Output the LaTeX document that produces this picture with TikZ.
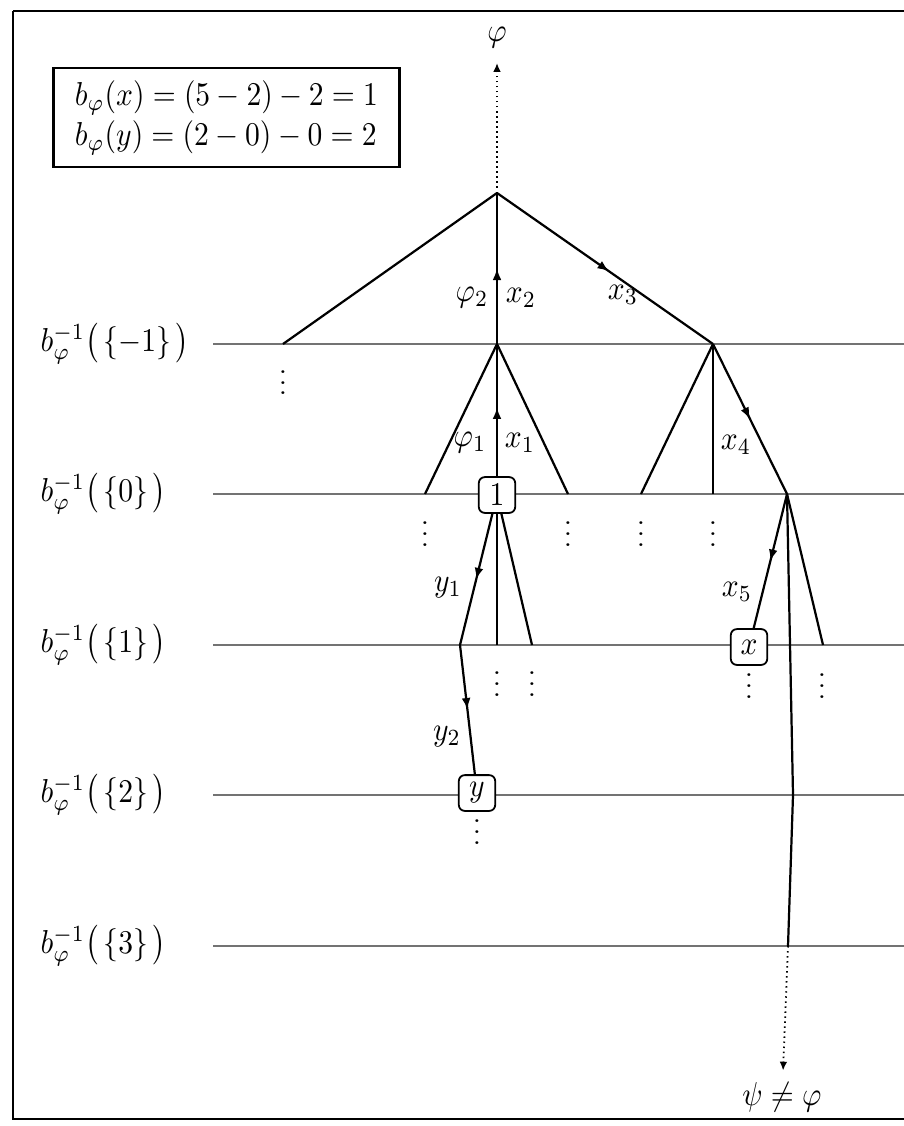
\documentclass[tikz,border=0pt]{standalone}
\usetikzlibrary{arrows.meta,decorations.markings}
\newcommand{\myvdots}{\vbox{\baselineskip=4pt\lineskiplimit=0pt\hbox{.}\hbox{.}\hbox{.}}}
\begin{document}
\begin{tikzpicture}[x=0.338pt,y=-0.338pt,
  st/.style={yscale=1.12, transform shape},
  lvl/.style={st, anchor=west, inner sep=0pt},
  lab/.style={st, inner sep=1pt},
  vbox/.style={st, draw, fill=white, rounded corners=2pt, minimum width=12.3pt, minimum height=10.8pt, inner sep=2pt, line width=0.6pt},
  vd/.style={yscale=0.9, transform shape, anchor=base, inner sep=0pt},
  levelline/.style={draw=black!55, line width=0.5pt},
  edge/.style={line width=0.75pt},
  frame/.style={line width=1pt},
  dotarrow/.style={line width=0.6pt, dash pattern=on 0.5pt off 1.2pt, -{Latex[length=3pt,width=2.6pt]}},
  midarrow/.style={postaction={decorate, decoration={markings, mark=at position #1 with {\arrow{Latex[length=3.9pt,width=3pt]}}}}},
  midarrow/.default=0.55
]
\useasboundingbox (0,0) rectangle (903,1126);
% frame
\draw[frame] (13,11) -- (930,11);
\draw[frame] (13,11) -- (13,1119) -- (930,1119);

% equation box
\node[st, draw, line width=0.8pt, minimum width=117pt, minimum height=29.8pt, inner sep=0pt] (eq) at (226.5,117.5)
  {$\begin{array}{@{}l@{}} b_\varphi(x) = (5-2)-2 = 1\\ b_\varphi(y) = (2-0)-0 = 2\end{array}$};

% level lines and labels
\foreach \n/\yy/\t in {m1/344/{-1}, z0/494/{0}, p1/645/{1}, p2/795/{2}, p3/946/{3}} {
  \coordinate (lw\n) at (213,\yy);
  \coordinate (le\n) at (905,\yy);
  \draw[levelline] (lw\n) -- (le\n);
  \node[lvl] (lab\n) at (40,\yy) {$b_\varphi^{-1}\bigl(\,\{\t\}\,\bigr)$};
}

% coordinates of the tree
\coordinate (R) at (497,193);
\coordinate (L1) at (283,344);
\coordinate (A) at (497,344);
\coordinate (B) at (713,344);
\coordinate (AL) at (425,494);
\coordinate (AR) at (568,494);
\coordinate (P1) at (460,645);
\coordinate (P2) at (497,645);
\coordinate (P3) at (532,645);
\coordinate (BL) at (641,494);
\coordinate (BM) at (713,494);
\coordinate (C) at (787,494);
\coordinate (CR) at (823,645);
\coordinate (K2) at (793,795);
\coordinate (K3) at (788,946);

\node[vbox] (N1) at (497,495) {$1$};
\node[vbox] (Y) at (477,793) {$y$};
\node[vbox] (X) at (749,647) {$x$};

\node[st] (phi) at (497,38) {$\varphi$};
\node[st] (psi) at (782,1097) {$\psi\neq\varphi$};

% edges
\draw[dotarrow, shorten >=1pt] (R) -- (phi);
\draw[edge] (R) -- (L1);
\draw[edge, midarrow=0.5] (A) -- (R);
\draw[edge, midarrow=0.52] (R) -- (B);
\draw[edge] (A) -- (AL);
\draw[edge, midarrow=0.52] (N1) -- (A);
\draw[edge] (A) -- (AR);
\draw[edge, midarrow=0.5] (N1) -- (P1);
\draw[edge] (N1) -- (P2);
\draw[edge] (N1) -- (P3);
\draw[edge, midarrow=0.5] (P1) -- (Y);
\draw[edge] (B) -- (BL);
\draw[edge] (B) -- (BM);
\draw[edge, midarrow=0.5] (B) -- (C);
\draw[edge, midarrow=0.5] (C) -- (X);
\draw[edge] (C) -- (CR);
\draw[edge] (C) -- (K2) -- (K3);
\draw[dotarrow] (K3) -- (psi);

% edge labels
\node[lab] (lphi2) at (472,298) {$\varphi_2$};
\node[lab] (lx2) at (521,298) {$x_2$};
\node[lab] (lx3) at (623,295) {$x_3$};
\node[lab] (lphi1) at (470,443) {$\varphi_1$};
\node[lab] (lx1) at (520,443) {$x_1$};
\node[lab] (lx4) at (736,445) {$x_4$};
\node[lab] (ly1) at (448,588) {$y_1$};
\node[lab] (lx5) at (737,592) {$x_5$};
\node[lab] (ly2) at (447,737) {$y_2$};

% vertical dots
\node[vd] (d0) at (283,395) {\myvdots};
\node[vd] (d1) at (425,546) {\myvdots};
\node[vd] (d2) at (568,546) {\myvdots};
\node[vd] (d3) at (641,546) {\myvdots};
\node[vd] (d4) at (713,546) {\myvdots};
\node[vd] (d5) at (497,696) {\myvdots};
\node[vd] (d6) at (532,696) {\myvdots};
\node[vd] (d7) at (749,698) {\myvdots};
\node[vd] (d8) at (822,698) {\myvdots};
\node[vd] (d9) at (477,844) {\myvdots};
\end{tikzpicture}
\end{document}
